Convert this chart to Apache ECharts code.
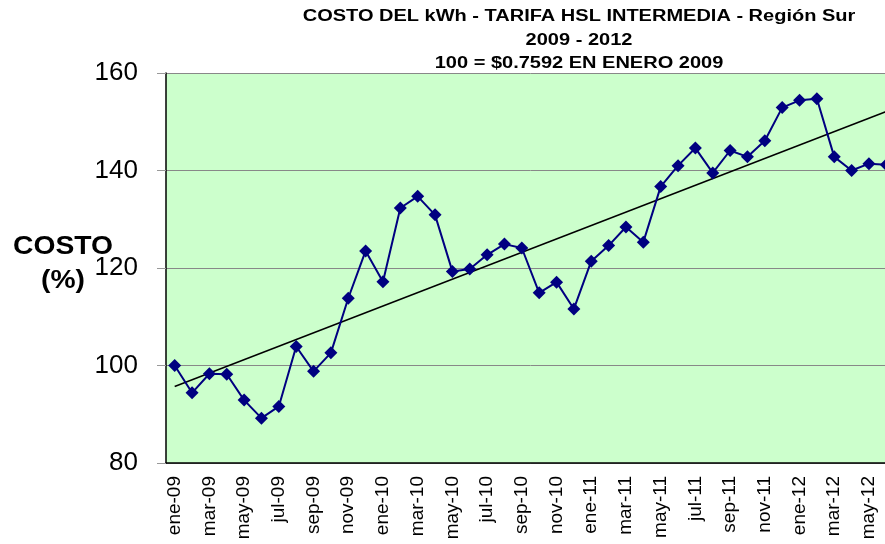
<!DOCTYPE html>
<html>
<head>
<meta charset="utf-8">
<script src="https://cdn.jsdelivr.net/npm/echarts@6/dist/echarts.min.js"></script>
<style>
    html, body {margin: 0; padding: 0; background: #fff; overflow: hidden;}
    /* el grafico original esta recortado por la derecha */
    #chart {width: 895px; height: 544px;}
</style>
</head>
<body>
<div id="chart"></div>
<script>
var months = ['ene', 'feb', 'mar', 'abr', 'may', 'jun', 'jul', 'ago', 'sep', 'oct', 'nov', 'dic'];
var categories = [];
['09', '10', '11', '12'].forEach(function (yy) {
    months.forEach(function (m) {
        categories.push(m + '-' + yy);
    });
});
// solo se ve hasta jun-12
categories = categories.slice(0, 42);

var costo = [
    100.0, 94.4, 98.3, 98.2, 92.9, 89.2, 91.6, 103.9, 98.8, 102.6, 113.8, 123.5,
    117.2, 132.3, 134.7, 130.9, 119.3, 119.8, 122.7, 124.9, 124.1, 114.9, 117.1, 111.6,
    121.4, 124.6, 128.4, 125.3, 136.7, 141.0, 144.6, 139.5, 144.1, 142.8, 146.1, 152.9,
    154.4, 154.7, 142.8, 140.0, 141.4, 141.2
];

// tendencia lineal (extremos)
var trendCats = ['ene-09', 'jun-12'];
var trendValues = [95.7, 152.1];

var yTicks = [80, 100, 120, 140, 160];

var chart = echarts.init(document.getElementById('chart'));

var options = {
    animation: false,
    textStyle: {fontFamily: 'Liberation Sans, Arial, sans-serif'},
    graphic: [
        {
            type: 'text',
            x: 579,
            y: 5,
            scaleX: 1.25,
            style: {
                text: 'COSTO DEL kWh - TARIFA HSL INTERMEDIA - Región Sur\n2009 - 2012\n100 = $0.7592 EN ENERO 2009',
                fontSize: 16,
                fontWeight: 'bold',
                fontFamily: 'Liberation Sans, Arial, sans-serif',
                lineHeight: 23.5,
                fill: '#000',
                align: 'center',
                verticalAlign: 'top'
            }
        },
        {
            type: 'text',
            x: 63,
            y: 230,
            scaleX: 1.13,
            style: {
                text: 'COSTO\n(%)',
                fontSize: 25,
                fontWeight: 'bold',
                fontFamily: 'Liberation Sans, Arial, sans-serif',
                lineHeight: 34,
                fill: '#000',
                align: 'center',
                verticalAlign: 'top'
            }
        }
    ],
    grid: {
        left: 166,
        top: 73,
        bottom: 81,
        right: 0,
        show: true,
        backgroundColor: '#ccffcc',
        borderWidth: 0
    },
    xAxis: {
        type: 'category',
        data: categories,
        boundaryGap: true,
        axisLine: {lineStyle: {color: '#000', width: 1.5}},
        axisTick: {interval: 1, length: 6, lineStyle: {color: '#999'}},
        axisLabel: {
            interval: 1,
            rotate: 90,
            fontSize: 19,
            color: '#000',
            margin: 13
        },
        splitLine: {show: false}
    },
    yAxis: {
        type: 'value',
        min: 80,
        max: 160,
        interval: 20,
        axisLine: {show: true, lineStyle: {color: '#000', width: 1.5}},
        axisTick: {show: true, length: 9, lineStyle: {color: '#999'}},
        axisLabel: {
            fontSize: 26,
            color: '#000',
            margin: 28,
            customValues: yTicks
        },
        splitLine: {lineStyle: {color: '#888', width: 1}}
    },
    series: [
        {
            name: 'Tendencia',
            type: 'line',
            data: trendCats.map(function (c, i) { return [c, trendValues[i]]; }),
            symbol: 'none',
            lineStyle: {color: '#000', width: 1.5},
            z: 3
        },
        {
            name: 'Costo',
            type: 'line',
            data: costo,
            symbol: 'diamond',
            symbolSize: 13,
            showAllSymbol: true,
            itemStyle: {color: '#000080'},
            lineStyle: {color: '#000080', width: 2},
            z: 4
        }
    ]
};

chart.setOption(options);
</script>
</body>
</html>
